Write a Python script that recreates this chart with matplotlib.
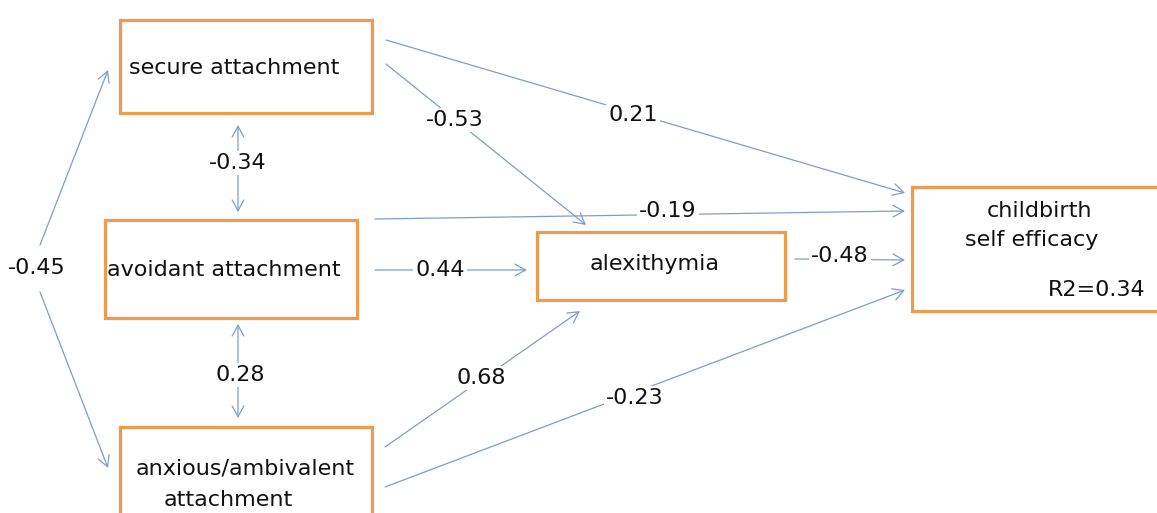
import matplotlib
matplotlib.use("Agg")
import matplotlib.pyplot as plt
from matplotlib.patches import Rectangle, FancyArrowPatch

# ---- data ----
node_keys = ["sec", "avo", "anx", "alx", "cse"]
node_labels = ["secure attachment", "avoidant attachment", "anxious/ambivalent\nattachment",
               "alexithymia", "childbirth\nself efficacy"]
edge_from = ["sec", "sec", "avo", "avo", "alx", "anx", "anx"]
edge_to = ["alx", "cse", "cse", "alx", "cse", "alx", "cse"]
edge_coef = [-0.53, 0.21, -0.19, 0.44, -0.48, 0.68, -0.23]
cov_pairs = [("sec", "avo"), ("avo", "anx"), ("sec", "anx")]
cov_coef = [-0.34, 0.28, -0.45]
r2_value = 0.34

# ---- layout (pixels, y downwards) ----
W, H = 1157, 513
boxes = {  # x0, y0, x1, y1
    "sec": (120, 20, 372, 113),
    "avo": (105, 220, 357, 318),
    "anx": (120, 427, 372, 520),
    "alx": (537, 232, 785, 300),
    "cse": (912, 187, 1162, 311),
}
text_lines = {  # per line: (x, y, ha)
    "sec": [(129, 68, "left")],
    "avo": [(224, 270, "center")],
    "anx": [(245, 468, "center"), (228, 500, "center")],
    "alx": [(655, 264, "center")],
    "cse": [(1039, 211, "center"), (1032, 240, "center")],
}
edge_geom = {  # start, end, label position
    ("sec", "alx"): ((386, 64), (586, 225), (455, 120)),
    ("sec", "cse"): ((386, 40), (905, 193), (633, 115)),
    ("avo", "cse"): ((375, 219), (905, 211), (668, 211)),
    ("avo", "alx"): ((375, 270), (527, 270), (440, 270)),
    ("alx", "cse"): ((795, 259), (905, 260), (840, 256)),
    ("anx", "alx"): ((385, 447), (580, 311), (481, 378)),
    ("anx", "cse"): ((385, 487), (905, 290), (635, 398)),
}
cov_geom = {
    ("sec", "avo"): ((238, 125), (238, 212), (238, 163)),
    ("avo", "anx"): ((238, 324), (238, 418), (240, 375)),
}

line_col = "#7f9dc8"
box_col = "#ef9a4c"
font = "DejaVu Sans"
fs = 16

fig = plt.figure(figsize=(W / 100, H / 100), dpi=100)
ax = fig.add_axes([0, 0, 1, 1])
ax.set_xlim(0, W)
ax.set_ylim(H, 0)
ax.axis("off")

for k, (x0, y0, x1, y1) in boxes.items():
    ax.add_patch(Rectangle((x0, y0), x1 - x0, y1 - y0, fill=True, facecolor="white",
                           edgecolor=box_col, linewidth=2.3, zorder=2))

for k, lab in zip(node_keys, node_labels):
    for (x, y, ha), line in zip(text_lines[k], lab.split("\n")):
        ax.text(x, y, line, ha=ha, va="center", fontsize=fs, family=font,
                color="#111111", zorder=3)
ax.text(1145, 290, f"R2={r2_value:.2f}", ha="right", va="center", fontsize=fs,
        family=font, color="#111111", zorder=3)


def arrow(p0, p1, style):
    ax.add_patch(FancyArrowPatch(p0, p1, arrowstyle=style, mutation_scale=14,
                                 color=line_col, linewidth=0.9, shrinkA=0, shrinkB=0,
                                 zorder=1))


def label(pos, val, box=True):
    ax.text(pos[0], pos[1], f"{val:.2f}", ha="center", va="center", fontsize=fs,
            family=font, color="#111111", zorder=3,
            bbox=dict(facecolor="white", edgecolor="none", pad=1.5) if box else None)


head = "->,head_length=0.55,head_width=0.3"
for f, t, c in zip(edge_from, edge_to, edge_coef):
    p0, p1, lp = edge_geom[(f, t)]
    arrow(p0, p1, head)
    label(lp, c)

for (a, b), c in zip(cov_pairs, cov_coef):
    if (a, b) in cov_geom:
        p0, p1, lp = cov_geom[(a, b)]
        arrow(p0, p1, "<->,head_length=0.55,head_width=0.3")
        label(lp, c)
    else:
        # covariance on the left drawn as two arms from the label
        arrow((40, 245), (108, 70), head)
        arrow((40, 292), (108, 468), head)
        label((37, 268), c, box=False)

fig.savefig("out.png", dpi=100)
